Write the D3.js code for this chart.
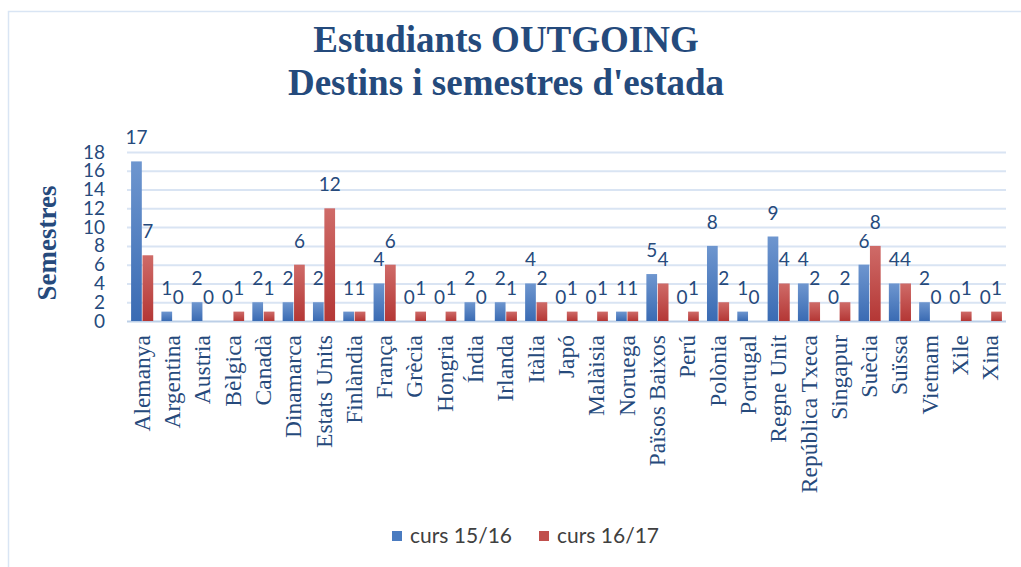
<!DOCTYPE html>
<html lang="ca">
<head>
    <meta charset="UTF-8">
    <title>Estudiants OUTGOING</title>
    <style>
        body { margin: 0; background: #fff; }
        svg { display: block; }
    </style>
    <script src="https://d3js.org/d3.v7.min.js"></script>
</head>
<body>
    <div id="chart"></div>
    <script>
        const paisos = ["Alemanya", "Argentina", "Austria", "Bèlgica", "Canadà", "Dinamarca", "Estats Units",
            "Finlàndia", "França", "Grècia", "Hongria", "Índia", "Irlanda", "Itàlia", "Japó", "Malàisia",
            "Noruega", "Països Baixos", "Perú", "Polònia", "Portugal", "Regne Unit", "República Txeca",
            "Singapur", "Suècia", "Suïssa", "Vietnam", "Xile", "Xina"]
        const curs1516 = [17, 1, 2, 0, 2, 2, 2, 1, 4, 0, 0, 2, 2, 4, 0, 0, 1, 5, 0, 8, 1, 9, 4, 0, 6, 4, 2, 0, 0]
        const curs1617 = [7, 0, 0, 1, 1, 6, 12, 1, 6, 1, 1, 0, 1, 2, 1, 1, 1, 4, 1, 2, 0, 4, 2, 2, 8, 4, 0, 1, 1]
        const series = ["curs 15/16", "curs 16/17"]
        const yTicks = [0, 2, 4, 6, 8, 10, 12, 14, 16, 18]

        const width = 1021, height = 567
        const plotLeft = 127, plotRight = 1006, plotTop = 152, plotBottom = 321
        const textBlue = "#264a7c"

        const data = paisos.map((p, i) => ({ pais: p, vals: [curs1516[i], curs1617[i]] }))

        const svg = d3.select("#chart").append("svg").attr("width", width).attr("height", height)

        // gradients per serie
        const defs = svg.append("defs")
        const grads = [["gBlue", "#6e96cf", "#3a6bb3"], ["gRed", "#cf6b68", "#b43735"]]
        grads.forEach(g => {
            const lg = defs.append("linearGradient").attr("id", g[0]).attr("x1", 0).attr("y1", 0).attr("x2", 0).attr("y2", 1)
            lg.append("stop").attr("offset", "0%").attr("stop-color", g[1])
            lg.append("stop").attr("offset", "100%").attr("stop-color", g[2])
        })
        const fills = ["url(#gBlue)", "url(#gRed)"]
        const legendFills = ["#4a7bc0", "#c0504d"]

        // border
        svg.append("rect").attr("x", 8.5).attr("y", 11.5).attr("width", 1100).attr("height", 700)
            .attr("fill", "none").attr("stroke", "#d9e5f4").attr("stroke-width", 1.5)

        // title
        const title = svg.append("text").attr("text-anchor", "middle")
            .attr("font-family", "'Liberation Serif', 'Times New Roman', serif")
            .attr("font-weight", "bold").attr("font-size", 37).attr("fill", "#244a7c")
        title.append("tspan").attr("x", 506).attr("y", 52).text("Estudiants OUTGOING")
        title.append("tspan").attr("x", 506).attr("y", 95).text("Destins i semestres d'estada")

        const x0 = d3.scaleBand().domain(paisos).range([plotLeft, plotRight]).paddingInner(0.27).paddingOuter(0.135)
        const x1 = d3.scaleBand().domain([0, 1]).range([0, x0.bandwidth()]).paddingInner(0.06)
        const y = d3.scaleLinear().domain([0, 18]).range([plotBottom, plotTop])

        // gridlines
        const yAxis = d3.axisLeft(y).tickValues(yTicks).tickSize(-(plotRight - plotLeft)).tickFormat(d => d)
        const yg = svg.append("g").attr("transform", `translate(${plotLeft},0)`).call(yAxis)
        yg.select(".domain").remove()
        yg.selectAll(".tick line").attr("stroke", d => d === 0 ? "#bccfe7" : "#d9e4f3").attr("stroke-width", 2)
        yg.selectAll(".tick text").attr("x", -22).attr("fill", textBlue)
            .attr("font-family", "Lato, 'Open Sans', sans-serif").attr("font-size", 19)

        // bars
        const groups = svg.append("g").selectAll("g").data(data).join("g")
            .attr("transform", d => `translate(${x0(d.pais)},0)`)
        groups.selectAll("rect").data(d => d.vals.map((v, k) => ({ v, k }))).join("rect")
            .attr("x", d => x1(d.k)).attr("width", x1.bandwidth())
            .attr("y", d => y(d.v)).attr("height", d => y(0) - y(d.v))
            .attr("fill", d => fills[d.k])
        groups.selectAll("text").data(d => d.vals.map((v, k) => ({ v, k }))).join("text")
            .attr("x", d => x1(d.k) + x1.bandwidth() / 2).attr("y", d => y(d.v) - 17)
            .attr("text-anchor", "middle").attr("fill", textBlue)
            .attr("font-family", "Lato, 'Open Sans', sans-serif").attr("font-size", 19)
            .text(d => d.v)

        // x axis labels
        const xAxis = d3.axisBottom(x0).tickSize(0).tickPadding(0)
        const xg = svg.append("g").attr("transform", `translate(0,${plotBottom})`).call(xAxis)
        xg.select(".domain").remove()
        xg.selectAll(".tick text")
            .attr("transform", "rotate(-90)").attr("x", -14).attr("y", 0).attr("dy", "0.32em")
            .attr("text-anchor", "end").attr("fill", textBlue)
            .attr("font-family", "'Liberation Serif', 'Times New Roman', serif").attr("font-size", 23.5)

        // y axis title
        svg.append("text").attr("transform", "translate(56,243) rotate(-90)").attr("text-anchor", "middle")
            .attr("font-family", "'Liberation Serif', 'Times New Roman', serif").attr("font-weight", "bold")
            .attr("font-size", 27).attr("fill", textBlue).text("Semestres")

        // legend
        const legendX = [392, 539]
        const lg = svg.append("g").selectAll("g").data(series).join("g")
            .attr("transform", (d, i) => `translate(${legendX[i]},531)`)
        lg.append("rect").attr("width", 10).attr("height", 10).attr("fill", (d, i) => legendFills[i])
        lg.append("text").attr("x", 18).attr("y", 12).attr("fill", "#404040")
            .attr("font-family", "Lato, 'Open Sans', sans-serif").attr("font-size", 21).text(d => d)
    </script>
</body>
</html>
